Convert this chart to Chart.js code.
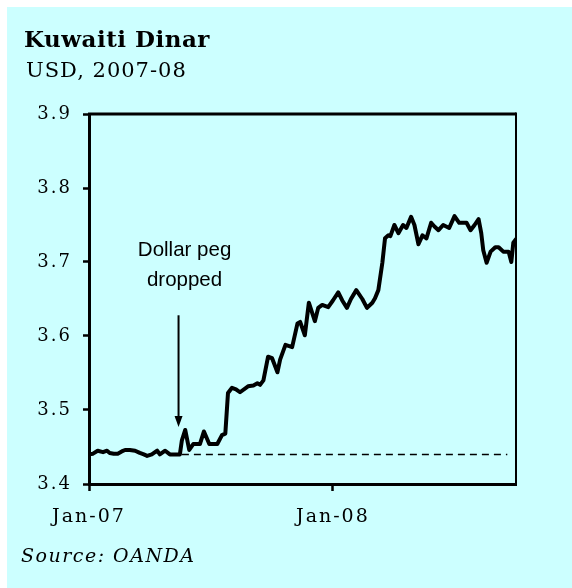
<!DOCTYPE html>
<html><head><meta charset="utf-8">
<script src="https://cdn.jsdelivr.net/npm/chart.js@4.4.0/dist/chart.umd.min.js"></script>
<style>
html,body{margin:0;padding:0;background:#fff;}
#wrap{position:absolute;left:7px;top:7px;width:565px;height:581px;background:#ccffff;}
canvas{display:block;}
</style></head><body>
<div id="wrap"><canvas id="c" width="565" height="581"></canvas></div>
<script>
const titleText = 'Kuwaiti Dinar';
const subtitleText = 'USD, 2007-08';
const sourceText = 'Source: OANDA';
const noteLines = ['Dollar peg', 'dropped'];

// days since 1 Jan 2007
const days = [0,6,13,21,27,31,37,43,49,54,61,69,76,82,87,94,102,106,114,121,129,136,139,144,150,156,166,172,180,192,199,204,208,214,220,226,238,246,252,256,261,268,274,282,286,294,304,312,316,323,329,338,343,349,358,365,373,379,386,392,400,409,416,424,428,433,439,443,448,451,457,463,470,475,482,487,493,499,505,512,517,523,530,539,547,554,565,571,577,583,587,590,595,601,608,613,620,628,632,635,639];
// USD per KWD
const rates = [3.440,3.441,3.445,3.443,3.445,3.442,3.441,3.441,3.444,3.446,3.446,3.445,3.442,3.440,3.438,3.440,3.445,3.440,3.445,3.440,3.440,3.440,3.459,3.473,3.446,3.454,3.454,3.471,3.454,3.454,3.466,3.468,3.523,3.530,3.528,3.524,3.532,3.533,3.536,3.534,3.540,3.572,3.570,3.551,3.568,3.588,3.585,3.617,3.619,3.601,3.645,3.620,3.638,3.642,3.639,3.648,3.659,3.648,3.638,3.650,3.662,3.650,3.638,3.645,3.651,3.662,3.699,3.732,3.736,3.735,3.750,3.739,3.750,3.746,3.761,3.750,3.724,3.736,3.732,3.753,3.748,3.743,3.750,3.746,3.762,3.753,3.753,3.743,3.750,3.758,3.739,3.716,3.699,3.714,3.720,3.720,3.714,3.714,3.700,3.726,3.731];

// old peg level (dashed)
const pegDays = [139, 626];
const pegRates = [3.44, 3.44];

const yTicks = [3.4, 3.5, 3.6, 3.7, 3.8, 3.9];
const xTickDays = [0, 365];
const xTickLabels = ['Jan-07', 'Jan-08'];
const xMinDay = 0, xMaxDay = 639;

// annotation anchors (data units)
const arrowDay = 134, arrowFromRate = 3.628, arrowToRate = 3.477;
const noteDay = 143, noteRates = [3.708, 3.668];

const spacingPlugin = {
  id: 'spacing',
  beforeDraw(chart) { chart.ctx.letterSpacing = '2px'; }
};

const framePlugin = {
  id: 'frame',
  beforeDatasetsDraw(chart) {
    const {ctx, chartArea: a} = chart;
    ctx.save();
    ctx.strokeStyle = '#000';
    ctx.lineWidth = 3;
    ctx.beginPath(); ctx.moveTo(a.left - 1, a.top); ctx.lineTo(a.right, a.top); ctx.stroke();
    ctx.lineWidth = 2;
    ctx.beginPath(); ctx.moveTo(a.right, a.top - 1.5); ctx.lineTo(a.right, a.bottom); ctx.stroke();
    ctx.restore();
  }
};

const textPlugin = {
  id: 'texts',
  afterDraw(chart) {
    const {ctx} = chart;
    const xs = chart.scales.x, ys = chart.scales.y;
    ctx.save();
    ctx.fillStyle = '#000';
    ctx.textAlign = 'left';
    ctx.textBaseline = 'alphabetic';
    ctx.letterSpacing = '0.5px';
    ctx.font = 'bold 23px "DejaVu Serif"';
    ctx.fillText(titleText, 17, 40);
    ctx.letterSpacing = '1px';
    ctx.font = '21px "DejaVu Serif"';
    ctx.fillText(subtitleText, 19, 70);
    ctx.letterSpacing = '1.5px';
    ctx.font = 'italic 19px "DejaVu Serif"';
    ctx.fillText(sourceText, 14, 555);

    ctx.letterSpacing = '0px';
    ctx.font = '20.5px "Liberation Sans"';
    ctx.textAlign = 'center';
    const nx = xs.getPixelForValue(noteDay);
    noteLines.forEach((t, i) => ctx.fillText(t, nx, ys.getPixelForValue(noteRates[i])));

    const ax = xs.getPixelForValue(arrowDay);
    const y0 = ys.getPixelForValue(arrowFromRate);
    const y1 = ys.getPixelForValue(arrowToRate);
    ctx.strokeStyle = '#000';
    ctx.lineWidth = 2;
    ctx.beginPath(); ctx.moveTo(ax, y0); ctx.lineTo(ax, y1 - 8); ctx.stroke();
    ctx.beginPath();
    ctx.moveTo(ax - 4, y1 - 11); ctx.lineTo(ax + 4, y1 - 11); ctx.lineTo(ax, y1); ctx.closePath();
    ctx.fill();
    ctx.restore();
  }
};

new Chart(document.getElementById('c'), {
  type: 'line',
  data: {
    datasets: [
      {
        data: days.map((d, i) => ({x: d, y: rates[i]})),
        borderColor: '#000', borderWidth: 4, pointRadius: 0,
        borderJoinStyle: 'round', borderCapStyle: 'round', tension: 0, fill: false
      },
      {
        data: pegDays.map((d, i) => ({x: d, y: pegRates[i]})),
        borderColor: '#000', borderWidth: 1.5, borderDash: [7, 5], pointRadius: 0, fill: false
      }
    ]
  },
  options: {
    responsive: false, animation: false, devicePixelRatio: 1,
    layout: {padding: {left: 0, top: 107, right: 56, bottom: 44}},
    plugins: {legend: {display: false}, tooltip: {enabled: false}, title: {display: false}},
    scales: {
      x: {
        type: 'linear', min: xMinDay, max: xMaxDay,
        afterBuildTicks: s => { s.ticks = xTickDays.map(v => ({value: v})); },
        afterFit: s => { s.height = 60; },
        ticks: {
          callback: (v, i) => xTickLabels[i], color: '#000', padding: 15,
          maxRotation: 0, autoSkip: false, font: {family: 'DejaVu Serif', size: 19}
        },
        grid: {drawOnChartArea: false, drawTicks: true, tickLength: 7, tickWidth: 2.5, tickColor: '#000'},
        border: {display: true, color: '#000', width: 3}
      },
      y: {
        min: 3.4, max: 3.9,
        afterBuildTicks: s => { s.ticks = yTicks.map(v => ({value: v})); },
        afterFit: s => { s.width = 82; },
        ticks: {
          callback: (v, i) => yTicks[i].toFixed(1), color: '#000', padding: 11,
          font: {family: 'DejaVu Serif', size: 18}
        },
        grid: {drawOnChartArea: false, drawTicks: true, tickLength: 6, tickWidth: 2.5, tickColor: '#000'},
        border: {display: true, color: '#000', width: 3}
      }
    }
  },
  plugins: [spacingPlugin, framePlugin, textPlugin]
});
</script>
</body></html>
